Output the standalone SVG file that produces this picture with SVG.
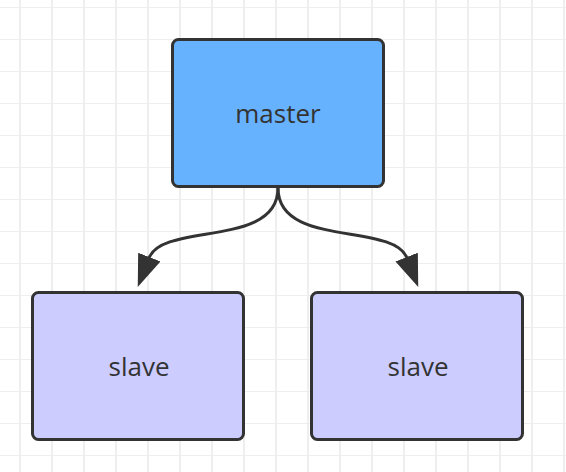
<svg xmlns="http://www.w3.org/2000/svg" width="566" height="472" viewBox="0 0 566 472">
  <defs>
    <pattern id="grid" x="4" y="7" width="32" height="32" patternUnits="userSpaceOnUse">
      <path d="M16,0 V32 M0,0 H32" fill="none" stroke="#eeeeee" stroke-width="2"/>
    </pattern>
    <marker id="arrow" markerUnits="userSpaceOnUse" markerWidth="34" markerHeight="26" refX="1" refY="12" orient="auto" viewBox="0 0 34 26">
      <path d="M0,0 L32,12 L0,24 Z" fill="#333333"/>
    </marker>
    <style>
      .box { stroke: #333333; stroke-width: 3; }
      .master { fill: #66b2ff; }
      .slave { fill: #ccccff; }
      .label { font-family: "Open Sans", "Noto Sans", sans-serif; font-size: 26px; fill: #333333; text-anchor: middle; }
      .conn { fill: none; stroke: #333333; stroke-width: 3; }
    </style>
  </defs>
  <rect width="566" height="472" fill="#ffffff"/>
  <rect width="566" height="472" fill="url(#grid)"/>
  <g id="connectors">
    <path class="conn" d="M278,188 C278,248 163,222 149,258" marker-end="url(#arrow)"/>
    <path class="conn" d="M278,188 C278,248 393,222 407,258" marker-end="url(#arrow)"/>
  </g>
  <g id="master">
    <rect class="box master" x="172.5" y="39.5" width="211" height="147" rx="6"/>
    <text class="label" x="278" y="123">master</text>
  </g>
  <g id="slave1">
    <rect class="box slave" x="32.5" y="292.5" width="211" height="147" rx="6"/>
    <text class="label" x="139" y="376">slave</text>
  </g>
  <g id="slave2">
    <rect class="box slave" x="311.5" y="292.5" width="211" height="147" rx="6"/>
    <text class="label" x="418" y="376">slave</text>
  </g>
</svg>
